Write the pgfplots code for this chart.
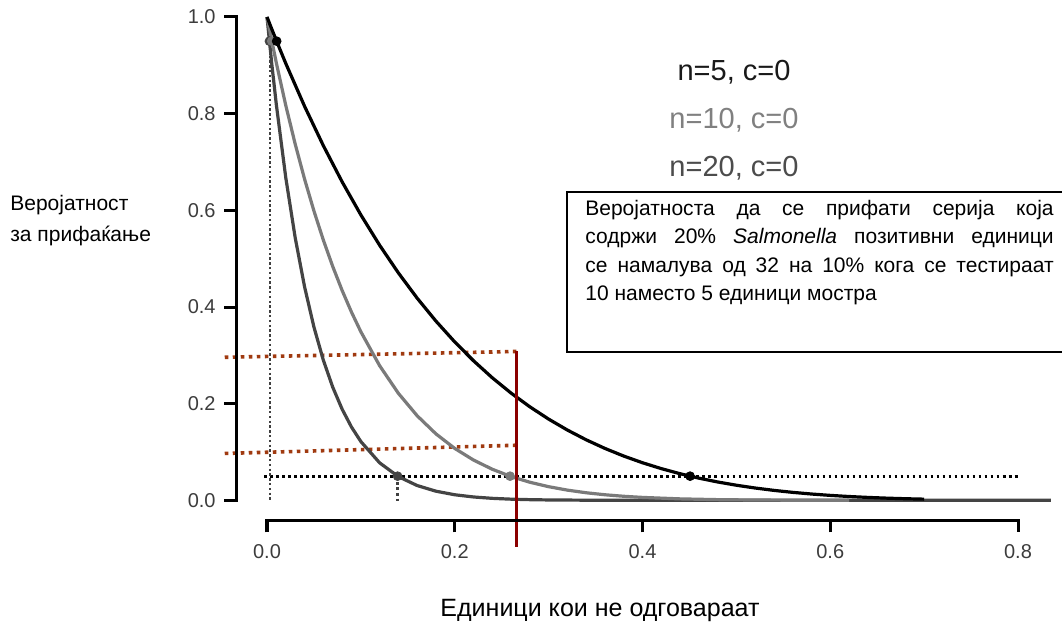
\documentclass[border=0pt]{standalone}
\usepackage{fontspec}
\setmainfont{Liberation Sans}
\usepackage{pgfplots}
\usepackage{pgfplotstable}
\pgfplotsset{compat=1.18}
\definecolor{nfive}{RGB}{0,0,0}
\definecolor{nten}{RGB}{122,122,122}
\definecolor{ntwenty}{RGB}{68,68,68}
\definecolor{rust}{RGB}{160,58,16}
\definecolor{darkred}{RGB}{139,0,0}
\definecolor{ticktxt}{RGB}{60,60,60}
\tikzset{ticklab/.style={inner sep=0, text=ticktxt, font=\fontsize{10}{12}\selectfont}}

% P(accept) = (1-p)^n, c = 0
\pgfplotstableread{
p     pa
0.00  1.00000
0.01  0.95099
0.02  0.90392
0.04  0.81537
0.06  0.73390
0.08  0.65908
0.10  0.59049
0.12  0.52773
0.14  0.47043
0.16  0.41821
0.18  0.37074
0.20  0.32768
0.22  0.28872
0.24  0.25355
0.26  0.22190
0.28  0.19349
0.30  0.16807
0.32  0.14539
0.34  0.12523
0.36  0.10737
0.38  0.09161
0.40  0.07776
0.42  0.06564
0.44  0.05507
0.46  0.04592
0.48  0.03802
0.50  0.03125
0.52  0.02548
0.54  0.02060
0.56  0.01649
0.58  0.01307
0.60  0.01024
0.62  0.00792
0.64  0.00605
0.66  0.00454
0.68  0.00336
0.70  0.00243
}\nfivetab

\pgfplotstableread{
p     pa
0.00  1.00000
0.01  0.90438
0.02  0.81707
0.03  0.73742
0.04  0.66483
0.05  0.59874
0.06  0.53861
0.07  0.48398
0.08  0.43439
0.09  0.38942
0.10  0.34868
0.12  0.27850
0.14  0.22130
0.16  0.17490
0.18  0.13745
0.20  0.10737
0.22  0.08336
0.24  0.06429
0.26  0.04924
0.28  0.03744
0.30  0.02825
0.32  0.02114
0.34  0.01568
0.36  0.01153
0.38  0.00839
0.40  0.00605
0.44  0.00303
0.48  0.00145
0.52  0.00065
0.56  0.00027
0.62  0.00005
}\ntentab

\pgfplotstableread{
p     pa
0.000 1.00000
0.005 0.90462
0.01  0.81791
0.02  0.66761
0.03  0.54379
0.04  0.44200
0.05  0.35849
0.06  0.29011
0.07  0.23424
0.08  0.18869
0.09  0.15164
0.10  0.12158
0.12  0.07756
0.14  0.04897
0.16  0.03059
0.18  0.01889
0.20  0.01153
0.22  0.00695
0.24  0.00413
0.26  0.00242
0.28  0.00140
0.30  0.00080
0.35  0.00018
0.40  0.00004
0.835 0.00000
}\ntwentytab

\begin{document}
\begin{tikzpicture}
\begin{axis}[
  scale only axis, width=375.25pt, height=241.5pt,
  xmin=0, xmax=0.8, ymin=0, ymax=1,
  hide axis, clip=false,
]
% reference lines
\addplot[rust, line width=1.8pt, dash pattern=on 1.8pt off 2.2pt] coordinates {(-0.045,0.296) (0.266,0.308)};
\addplot[rust, line width=1.8pt, dash pattern=on 1.8pt off 2.2pt] coordinates {(-0.045,0.097) (0.266,0.114)};
\addplot[black, line width=1.4pt, dash pattern=on 1.4pt off 1.6pt] coordinates {(-0.003,0.05) (0.8,0.05)};
\addplot[black!75, line width=1.3pt, dash pattern=on 1.2pt off 1.2pt] coordinates {(0.003,0.95) (0.003,0)};
\addplot[black!75, line width=1.3pt, dash pattern=on 1.4pt off 1.4pt] coordinates {(0.139,0.05) (0.139,-0.005)};
% OC curves
\addplot[ntwenty, line width=1.6pt] table[x=p, y=pa] {\ntwentytab};
\addplot[nten, line width=1.6pt] table[x=p, y=pa] {\ntentab};
\addplot[nfive, line width=1.6pt] table[x=p, y=pa] {\nfivetab};
% points at P = 0.95 and P = 0.05
\addplot[only marks, mark=*, mark size=2.2pt, ntwenty] coordinates {(0.0026,0.95) (0.1391,0.05)};
\addplot[only marks, mark=*, mark size=2.2pt, nten] coordinates {(0.0051,0.95) (0.2589,0.05)};
\addplot[only marks, mark=*, mark size=2.2pt, nfive] coordinates {(0.0103,0.95) (0.4507,0.05)};
% 20% defective line
\addplot[darkred, line width=1.5pt] coordinates {(0.266,0.308) (0.266,-0.097)};

% axes
\draw[line width=1.5pt] (axis cs:-0.0458,1) -- (axis cs:-0.0330,1) -- (axis cs:-0.0330,0) -- (axis cs:-0.0458,0);
\draw[line width=1.5pt] (axis cs:-0.0458,0.2) -- (axis cs:-0.0330,0.2);
\draw[line width=1.5pt] (axis cs:-0.0458,0.4) -- (axis cs:-0.0330,0.4);
\draw[line width=1.5pt] (axis cs:-0.0458,0.6) -- (axis cs:-0.0330,0.6);
\draw[line width=1.5pt] (axis cs:-0.0458,0.8) -- (axis cs:-0.0330,0.8);
\draw[line width=1.5pt] (axis cs:0,-0.0663) -- (axis cs:0,-0.0414) -- (axis cs:0.8,-0.0414) -- (axis cs:0.8,-0.0663);
\draw[line width=1.5pt] (axis cs:0.2,-0.0663) -- (axis cs:0.2,-0.0414);
\draw[line width=1.5pt] (axis cs:0.4,-0.0663) -- (axis cs:0.4,-0.0414);
\draw[line width=1.5pt] (axis cs:0.6,-0.0663) -- (axis cs:0.6,-0.0414);
\node[ticklab, anchor=east] at (axis cs:-0.0543,0) {0.0};
\node[ticklab, anchor=east] at (axis cs:-0.0543,0.2) {0.2};
\node[ticklab, anchor=east] at (axis cs:-0.0543,0.4) {0.4};
\node[ticklab, anchor=east] at (axis cs:-0.0543,0.6) {0.6};
\node[ticklab, anchor=east] at (axis cs:-0.0543,0.8) {0.8};
\node[ticklab, anchor=east] at (axis cs:-0.0543,1) {1.0};
\node[ticklab] at (axis cs:0,-0.1056) {0.0};
\node[ticklab] at (axis cs:0.2,-0.1056) {0.2};
\node[ticklab] at (axis cs:0.4,-0.1056) {0.4};
\node[ticklab] at (axis cs:0.6,-0.1056) {0.6};
\node[ticklab] at (axis cs:0.8,-0.1056) {0.8};

% labels
\node[anchor=base west, inner sep=0] at (axis cs:-0.2738,0.6004)
  {\parbox[t]{90pt}{\fontsize{10.5}{15.5}\selectfont\raggedright Веројатност\\за прифаќање}};
\node[inner sep=0, font=\fontsize{12.5}{15}\selectfont] at (axis cs:0.3547,-0.2277) {Единици кои не одговараат};

% series names
\node[inner sep=0, text=black!90, font=\fontsize{14.5}{17}\selectfont] at (axis cs:0.4975,0.8861) {n=5, c=0};
\node[inner sep=0, text=black!50, font=\fontsize{14.5}{17}\selectfont] at (axis cs:0.4975,0.7867) {n=10, c=0};
\node[inner sep=0, text=black!70, font=\fontsize{14.5}{17}\selectfont] at (axis cs:0.4975,0.6874) {n=20, c=0};

% annotation box
\draw[line width=0.8pt, fill=white] (axis cs:0.3196,0.6377) rectangle (axis cs:0.8600,0.3064);
\node[anchor=base west, inner sep=0] at (axis cs:0.3387,0.5901)
  {\parbox[t]{234pt}{\fontsize{10.5}{14.25}\selectfont
  Веројатноста да се прифати серија која\linebreak
  содржи 20\% \textit{Salmonella} позитивни единици\linebreak
  се намалува од 32 на 10\% кога се тестираат\linebreak
  10 наместо 5 единици мостра}};

\coordinate (TL) at (axis cs:-0.28442,1.03520);
\coordinate (BR) at (axis cs:0.84687,-0.25673);
\end{axis}
\pgfresetboundingbox
\useasboundingbox (TL) rectangle (BR);
\end{tikzpicture}
\end{document}
